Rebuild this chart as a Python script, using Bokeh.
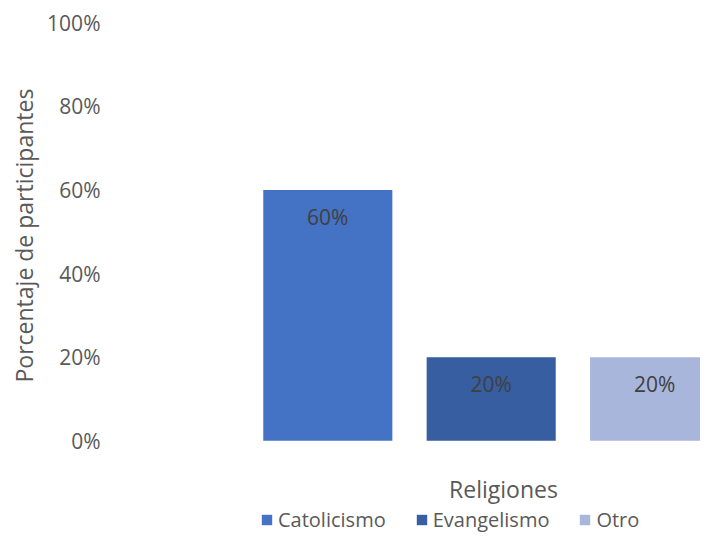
from bokeh.plotting import figure
from bokeh.models import (ColumnDataSource, Range1d, FixedTicker, NumeralTickFormatter,
                          Label, LabelSet, Legend, LegendItem, Title)
from bokeh.core.properties import value
from bokeh.embed import file_html
from bokeh.resources import INLINE

# ---- data ----
categories = ["Catolicismo", "Evangelismo", "Otro"]
shares = [0.60, 0.20, 0.20]
colors = ["#4472C4", "#365EA0", "#A9B6DB"]
y_ticks = [0.0, 0.2, 0.4, 0.6, 0.8, 1.0]
y_title = "Porcentaje de participantes"
x_title = "Religiones"

FONT = "Open Sans"
GREY = "#595959"

src = ColumnDataSource(dict(
    x=list(range(len(categories))),
    top=shares,
    color=colors,
    label=categories,
    text=[f"{v:.0%}" for v in shares],
))

p = figure(width=700, height=532, output_backend="svg", toolbar_location=None,
           x_range=Range1d(-1.330, 2.281), y_range=Range1d(-0.2197, 1.0536),
           x_axis_location=None,
           min_border_left=110, min_border_right=0, min_border_top=0, min_border_bottom=0)
p.outline_line_color = None
p.grid.visible = False
p.background_fill_color = "white"
p.border_fill_color = "white"

r = p.vbar(x="x", top="top", bottom=0, width=0.79, fill_color="color",
           line_color=None, source=src)

yax = p.yaxis[0]
yax.ticker = FixedTicker(ticks=y_ticks)
yax.formatter = NumeralTickFormatter(format="0%")
yax.axis_line_color = None
yax.major_tick_line_color = None
yax.minor_tick_line_color = None
yax.major_tick_out = 0
yax.major_tick_in = 0
yax.major_label_standoff = 10
yax.major_label_text_font = FONT
yax.major_label_text_font_size = "21px"
yax.major_label_text_color = GREY

labels = LabelSet(x="x", y="top", text="text", source=src, y_offset=-27,
                  text_align="center", text_baseline="middle",
                  text_font=value(FONT), text_font_size=value("21px"),
                  text_color="#404040")
p.add_layout(labels)

p.add_layout(Title(text=y_title, align="left", offset=150, vertical_align="middle",
                   standoff=8, text_font=FONT, text_font_size="23px",
                   text_font_style="normal", text_color=GREY), "left")

p.add_layout(Label(x=1.075, y=-0.1144, text=x_title, text_align="center",
                   text_baseline="middle", text_font=FONT,
                   text_font_size="23px", text_color=GREY))

legend = Legend(items=[LegendItem(label=categories[i], renderers=[r], index=i)
                       for i in range(len(categories))],
                location=(150, -1), orientation="horizontal",
                glyph_width=13, glyph_height=13, label_standoff=5, spacing=29,
                padding=0, margin=0, border_line_color=None,
                background_fill_alpha=0,
                label_text_font=FONT, label_text_font_size="20px",
                label_text_color=GREY)
p.add_layout(legend)

open("out.html", "w").write(file_html(p, INLINE))
